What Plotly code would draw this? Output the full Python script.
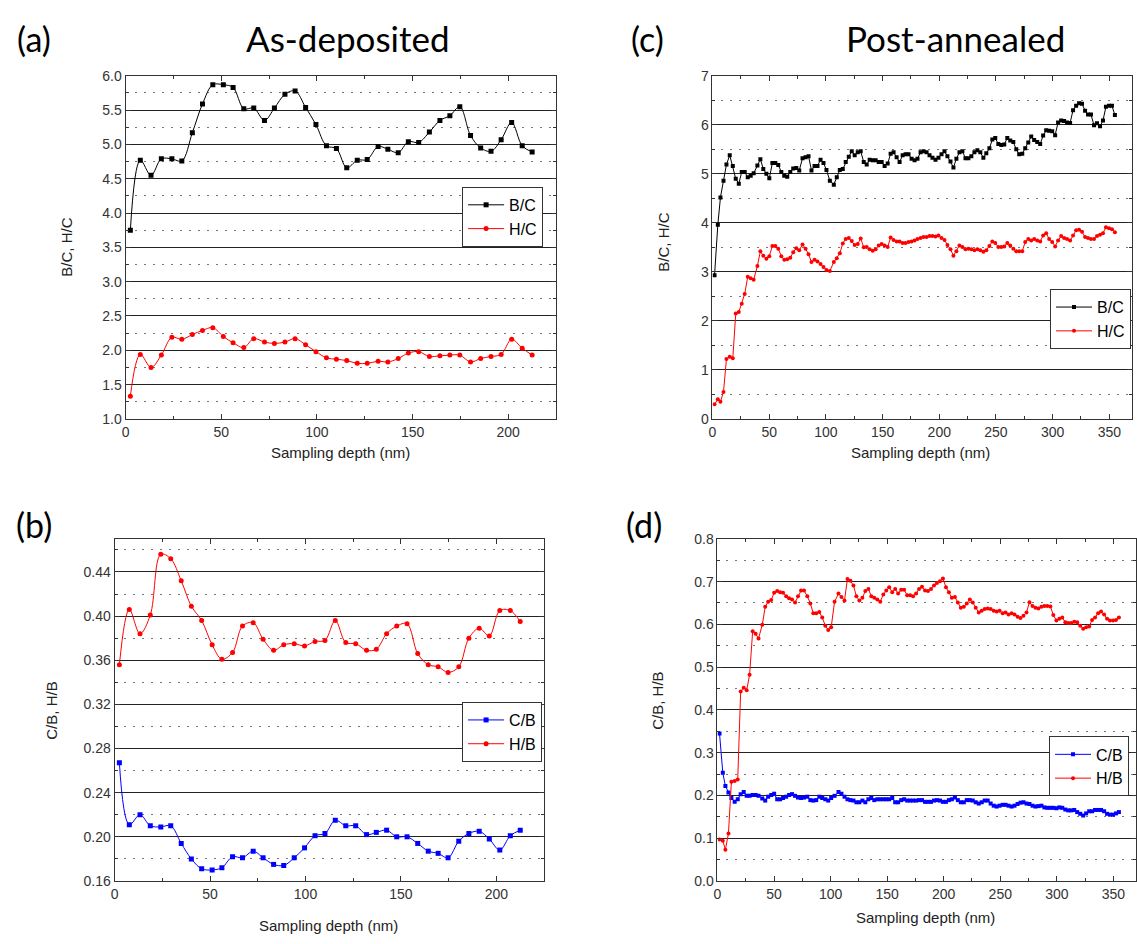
import plotly.graph_objects as go

# ---------------- data ----------------
# As-deposited (panels a, b)
depth_ab = [2.5, 7.7, 13.3, 18.7, 24.2, 29.4, 34.9, 40.2, 45.6, 51.1,
            56.2, 61.8, 67.0, 72.6, 77.8, 83.3, 88.6, 94.1, 99.5, 105.0,
            110.2, 115.6, 121.1, 126.3, 132.0, 137.1, 142.5, 147.8, 153.2, 158.8,
            164.3, 169.5, 174.7, 180.3, 185.6, 191.0, 196.3, 201.8, 207.3, 212.5]

bc_a = [3.75, 4.77, 4.55, 4.79, 4.79, 4.76, 5.17, 5.59, 5.87, 5.87,
        5.83, 5.52, 5.53, 5.35, 5.53, 5.73, 5.78, 5.54, 5.29, 4.98,
        4.94, 4.66, 4.77, 4.78, 4.97, 4.93, 4.88, 5.04, 5.03, 5.18,
        5.35, 5.42, 5.55, 5.13, 4.95, 4.90, 5.07, 5.32, 4.98, 4.89]

hc_a = [1.33, 1.94, 1.75, 1.93, 2.19, 2.16, 2.23, 2.29, 2.33, 2.20,
        2.11, 2.04, 2.17, 2.12, 2.10, 2.12, 2.17, 2.08, 1.98, 1.89,
        1.87, 1.85, 1.81, 1.81, 1.84, 1.83, 1.88, 1.96, 1.98, 1.91,
        1.92, 1.93, 1.93, 1.83, 1.88, 1.91, 1.94, 2.16, 2.03, 1.93]

cb_b = [0.267, 0.211, 0.220, 0.210, 0.209, 0.210, 0.194, 0.180, 0.171, 0.170,
        0.172, 0.182, 0.181, 0.187, 0.181, 0.175, 0.174, 0.181, 0.190, 0.201,
        0.203, 0.215, 0.210, 0.210, 0.202, 0.204, 0.206, 0.200, 0.200, 0.194,
        0.187, 0.185, 0.181, 0.196, 0.203, 0.205, 0.198, 0.188, 0.201, 0.206]

hb_b = [0.356, 0.406, 0.384, 0.401, 0.456, 0.452, 0.432, 0.409, 0.396, 0.374,
        0.361, 0.367, 0.391, 0.394, 0.379, 0.369, 0.374, 0.375, 0.373, 0.377,
        0.378, 0.396, 0.376, 0.375, 0.369, 0.370, 0.384, 0.391, 0.393, 0.366,
        0.356, 0.354, 0.349, 0.354, 0.380, 0.389, 0.382, 0.405, 0.405, 0.395]

# Post-annealed (panels c, d)
depth_cd = [1.8, 4.7, 7.0, 9.7, 12.3, 15.2, 17.9, 20.5, 23.2, 25.8,
            28.4, 31.1, 33.7, 36.3, 39.6, 42.2, 44.8, 47.5, 50.1, 52.8,
            55.4, 58.0, 60.7, 63.3, 65.9, 68.6, 71.2, 73.9, 76.5, 79.4,
            82.1, 84.7, 87.3, 90.0, 92.6, 95.3, 97.9, 100.5, 103.5, 107.0,
            109.6, 112.3, 114.9, 117.5, 120.2, 122.8, 125.4, 128.1, 130.7, 133.4,
            136.0, 138.6, 141.3, 143.9, 146.6, 149.2, 151.8, 154.5, 157.1, 159.7,
            162.4, 165.0, 167.7, 170.3, 172.9, 175.6, 178.2, 180.8, 183.5, 186.1,
            188.8, 191.4, 194.0, 196.7, 199.3, 202.0, 204.6, 207.2, 209.9, 212.5,
            215.1, 217.8, 220.4, 223.1, 225.7, 228.3, 231.0, 233.6, 236.2, 238.9,
            241.5, 244.2, 246.8, 249.4, 252.1, 254.7, 257.3, 260.0, 262.6, 265.3,
            267.9, 270.5, 273.2, 275.8, 278.5, 281.1, 283.7, 286.4, 289.0, 291.6,
            294.3, 296.9, 299.6, 302.2, 304.8, 307.5, 310.1, 312.7, 315.4, 318.0,
            320.7, 323.3, 325.9, 328.6, 331.2, 333.8, 336.5, 339.1, 341.8, 344.4,
            347.0, 349.7, 352.3, 354.9]

bc_c = [2.93, 3.96, 4.52, 4.86, 5.19, 5.38, 5.16, 4.90, 4.80, 5.04,
        5.04, 4.93, 4.96, 5.01, 5.17, 5.30, 5.10, 5.00, 4.91, 5.22,
        5.22, 5.18, 5.04, 4.96, 4.94, 5.04, 5.11, 5.12, 5.07, 5.32,
        5.34, 5.36, 5.07, 5.16, 5.16, 5.29, 5.22, 5.08, 4.86, 4.78,
        4.93, 5.08, 5.10, 5.24, 5.35, 5.46, 5.38, 5.44, 5.46, 5.24,
        5.19, 5.29, 5.28, 5.28, 5.24, 5.24, 5.16, 5.21, 5.41, 5.44,
        5.34, 5.24, 5.38, 5.40, 5.40, 5.31, 5.28, 5.31, 5.44, 5.46,
        5.44, 5.38, 5.33, 5.29, 5.33, 5.40, 5.46, 5.36, 5.25, 5.13,
        5.31, 5.44, 5.46, 5.32, 5.32, 5.36, 5.44, 5.48, 5.44, 5.33,
        5.42, 5.52, 5.70, 5.73, 5.61, 5.59, 5.60, 5.73, 5.68, 5.65,
        5.50, 5.40, 5.41, 5.52, 5.64, 5.76, 5.69, 5.65, 5.61, 5.78,
        5.89, 5.88, 5.87, 5.79, 6.05, 6.09, 6.08, 6.05, 6.04, 6.30,
        6.39, 6.44, 6.43, 6.29, 6.21, 6.21, 5.99, 6.03, 5.97, 6.09,
        6.37, 6.39, 6.39, 6.20]

hc_c = [0.30, 0.40, 0.35, 0.55, 1.22, 1.27, 1.24, 2.15, 2.18, 2.35,
        2.55, 2.90, 2.87, 2.84, 3.12, 3.42, 3.33, 3.27, 3.32, 3.53,
        3.53, 3.47, 3.32, 3.25, 3.26, 3.29, 3.40, 3.48, 3.44, 3.56,
        3.47, 3.36, 3.20, 3.25, 3.21, 3.16, 3.10, 3.04, 3.02, 3.20,
        3.28, 3.38, 3.58, 3.67, 3.69, 3.63, 3.55, 3.57, 3.68, 3.50,
        3.51, 3.46, 3.43, 3.46, 3.54, 3.57, 3.54, 3.51, 3.70, 3.65,
        3.62, 3.62, 3.59, 3.59, 3.61, 3.62, 3.64, 3.67, 3.69, 3.71,
        3.71, 3.73, 3.73, 3.72, 3.74, 3.69, 3.65, 3.55, 3.46, 3.33,
        3.42, 3.54, 3.51, 3.46, 3.47, 3.46, 3.44, 3.46, 3.44, 3.41,
        3.44, 3.53, 3.62, 3.59, 3.51, 3.51, 3.52, 3.59, 3.54, 3.47,
        3.42, 3.42, 3.42, 3.61, 3.67, 3.64, 3.67, 3.64, 3.62, 3.74,
        3.79, 3.67, 3.61, 3.52, 3.64, 3.73, 3.69, 3.67, 3.64, 3.74,
        3.85, 3.86, 3.82, 3.71, 3.69, 3.67, 3.67, 3.73, 3.76, 3.79,
        3.91, 3.89, 3.87, 3.81]

cb_d = [0.345, 0.253, 0.222, 0.207, 0.194, 0.185, 0.191, 0.203, 0.208, 0.199,
        0.199, 0.201, 0.201, 0.199, 0.193, 0.188, 0.197, 0.201, 0.204, 0.191,
        0.191, 0.194, 0.197, 0.201, 0.203, 0.199, 0.195, 0.194, 0.195, 0.197,
        0.189, 0.188, 0.189, 0.197, 0.194, 0.191, 0.188, 0.194, 0.199, 0.208,
        0.204, 0.197, 0.191, 0.189, 0.188, 0.184, 0.184, 0.188, 0.184, 0.191,
        0.194, 0.189, 0.191, 0.191, 0.191, 0.191, 0.191, 0.194, 0.184, 0.184,
        0.189, 0.191, 0.188, 0.188, 0.188, 0.188, 0.189, 0.189, 0.185, 0.185,
        0.185, 0.188, 0.189, 0.188, 0.185, 0.185, 0.189, 0.191, 0.195, 0.189,
        0.184, 0.184, 0.189, 0.189, 0.188, 0.184, 0.181, 0.184, 0.188, 0.188,
        0.181, 0.176, 0.174, 0.176, 0.178, 0.178, 0.176, 0.174, 0.176, 0.180,
        0.183, 0.184, 0.181, 0.180, 0.176, 0.174, 0.175, 0.176, 0.172, 0.171,
        0.171, 0.171, 0.170, 0.172, 0.171, 0.167, 0.165, 0.165, 0.166, 0.161,
        0.157, 0.153, 0.158, 0.163, 0.163, 0.166, 0.166, 0.166, 0.163, 0.157,
        0.155, 0.155, 0.158, 0.161]

hb_d = [0.097, 0.094, 0.073, 0.111, 0.232, 0.234, 0.237, 0.443, 0.452, 0.446,
        0.482, 0.584, 0.578, 0.567, 0.599, 0.641, 0.653, 0.657, 0.674, 0.678,
        0.675, 0.674, 0.666, 0.661, 0.658, 0.651, 0.666, 0.679, 0.679, 0.666,
        0.649, 0.626, 0.626, 0.629, 0.616, 0.597, 0.587, 0.593, 0.653, 0.672,
        0.664, 0.656, 0.706, 0.702, 0.691, 0.666, 0.656, 0.662, 0.678, 0.683,
        0.666, 0.662, 0.658, 0.653, 0.670, 0.679, 0.687, 0.675, 0.683, 0.672,
        0.681, 0.681, 0.668, 0.668, 0.666, 0.672, 0.683, 0.688, 0.679, 0.678,
        0.683, 0.691, 0.697, 0.701, 0.707, 0.687, 0.675, 0.662, 0.664, 0.651,
        0.639, 0.641, 0.649, 0.658, 0.651, 0.639, 0.628, 0.632, 0.636, 0.637,
        0.636, 0.632, 0.630, 0.632, 0.626, 0.628, 0.623, 0.626, 0.623, 0.618,
        0.615, 0.620, 0.628, 0.652, 0.643, 0.639, 0.637, 0.641, 0.643, 0.643,
        0.642, 0.622, 0.609, 0.613, 0.616, 0.605, 0.603, 0.603, 0.606, 0.605,
        0.597, 0.590, 0.593, 0.595, 0.610, 0.616, 0.626, 0.630, 0.623, 0.613,
        0.609, 0.609, 0.610, 0.616]

panel_labels = ["(a)", "(b)", "(c)", "(d)"]
panel_titles = ["As-deposited", "Post-annealed"]
x_title = "Sampling depth (nm)"
y_titles = ["B/C, H/C", "C/B, H/B", "B/C, H/C", "C/B, H/B"]

# ---------------- layout helpers ----------------
W, H = 1137, 944
def fx(px):
    return px / W
def fy(py):
    return 1 - py / H

BLACK, RED, BLUE = "#000000", "#ff0000", "#0000ff"
TICKFONT = dict(family="Liberation Sans, Arial", size=14, color="#333333")
TITLEFONT = dict(family="Liberation Sans, Arial", size=15, color="#222222")
BIGFONT = dict(family="Lato, Open Sans, sans-serif", size=35, color="#000000")
LABELFONT = dict(family="Lato, Open Sans, sans-serif", size=34, color="#000000")

fig = go.Figure()

def add(x, y, name, color, symbol, size, xa, ya, legend, spline):
    fig.add_trace(go.Scatter(
        x=x, y=y, name=name, mode="lines+markers",
        line=dict(color=color, width=1, shape="spline" if spline else "linear",
                  smoothing=1.0 if spline else None),
        marker=dict(color=color, symbol=symbol, size=size, line=dict(width=0)),
        xaxis=xa, yaxis=ya, legend=legend))

add(depth_ab, bc_a, "B/C", BLACK, "square", 5, "x", "y", "legend", True)
add(depth_ab, hc_a, "H/C", RED, "circle", 5, "x", "y", "legend", True)
add(depth_ab, cb_b, "C/B", BLUE, "square", 5, "x2", "y2", "legend2", True)
add(depth_ab, hb_b, "H/B", RED, "circle", 5, "x2", "y2", "legend2", True)
add(depth_cd, bc_c, "B/C", BLACK, "square", 4, "x3", "y3", "legend3", False)
add(depth_cd, hc_c, "H/C", RED, "circle", 4, "x3", "y3", "legend3", False)
add(depth_cd, cb_d, "C/B", BLUE, "square", 4, "x4", "y4", "legend4", False)
add(depth_cd, hb_d, "H/B", RED, "circle", 4, "x4", "y4", "legend4", False)

def xaxis(domain, rng, anchor):
    return dict(domain=domain, range=rng, anchor=anchor, dtick=50, tick0=0,
                showline=True, linecolor="#333333", linewidth=1, mirror="ticks",
                ticks="inside", ticklen=5, tickcolor="#333333", tickfont=TICKFONT,
                minor=dict(dtick=25, ticks="inside", ticklen=3, tickcolor="#333333"),
                showgrid=False, zeroline=False, fixedrange=True)

def yaxis(domain, rng, anchor, dtick, minor, fmt):
    return dict(domain=domain, range=rng, anchor=anchor, dtick=dtick, tick0=rng[0],
                tickformat=fmt,
                showline=True, linecolor="#333333", linewidth=1, mirror="ticks",
                ticks="inside", ticklen=5, tickcolor="#333333", tickfont=TICKFONT,
                showgrid=True, gridcolor="#222222", gridwidth=1,
                minor=dict(dtick=minor, ticks="inside", ticklen=3, tickcolor="#333333",
                           showgrid=True, gridcolor="#777777", griddash="2px,7px",
                           gridwidth=1),
                zeroline=False, fixedrange=True)

dom_a = ([fx(122), fx(554)], [fy(418), fy(69)])
dom_b = ([fx(111), fx(542)], [fy(888), fy(540)])
dom_c = ([fx(711), fx(1132)], [fy(418), fy(69)])
dom_d = ([fx(716), fx(1136)], [fy(888), fy(540)])

def legend(xr, yt):
    return dict(x=fx(xr), y=fy(yt), xanchor="right", yanchor="top",
                bordercolor="#333333", borderwidth=1, bgcolor="white",
                font=dict(family="Liberation Sans, Arial", size=16, color="#000"),
                tracegroupgap=0, itemwidth=36, traceorder="normal")

annotations = []
def text(s, px, py, font, angle=0):
    annotations.append(dict(text=s, x=fx(px), y=fy(py), xref="paper", yref="paper",
                            showarrow=False, font=font, textangle=angle,
                            xanchor="center", yanchor="middle"))

text(panel_labels[0], 30, 31, LABELFONT)
text(panel_labels[1], 30, 525, LABELFONT)
text(panel_labels[2], 646, 31, LABELFONT)
text(panel_labels[3], 642, 525, LABELFONT)
text(panel_titles[0], 345, 31, BIGFONT)
text(panel_titles[1], 955, 31, BIGFONT)

text(x_title, 338, 452, TITLEFONT)
text(x_title, 326, 933, TITLEFONT)
text(x_title, 920, 452, TITLEFONT)
text(x_title, 925, 925, TITLEFONT)
text(y_titles[0], 63, 243, TITLEFONT, -90)
text(y_titles[1], 48, 715, TITLEFONT, -90)
text(y_titles[2], 662, 238, TITLEFONT, -90)
text(y_titles[3], 655, 705, TITLEFONT, -90)

fig.update_layout(
    width=W, height=H, margin=dict(l=0, r=0, t=0, b=0),
    paper_bgcolor="white", plot_bgcolor="white",
    xaxis=xaxis(dom_a[0], [0, 225], "y"),
    yaxis=yaxis(dom_a[1], [1.0, 6.0], "x", 0.5, 0.25, ".1f"),
    xaxis2=xaxis(dom_b[0], [0, 225], "y2"),
    yaxis2=yaxis(dom_b[1], [0.16, 0.47], "x2", 0.04, 0.02, ".2f"),
    xaxis3=xaxis(dom_c[0], [0, 370], "y3"),
    yaxis3=yaxis(dom_c[1], [0, 7], "x3", 1, 0.5, "d"),
    xaxis4=xaxis(dom_d[0], [0, 370], "y4"),
    yaxis4=yaxis(dom_d[1], [0, 0.8], "x4", 0.1, 0.05, ".1f"),
    legend=legend(541, 182),
    legend2=legend(540, 706),
    legend3=legend(1131, 286),
    legend4=legend(1129, 741),
    annotations=annotations,
    showlegend=True,
)

fig.write_html("out.html")
